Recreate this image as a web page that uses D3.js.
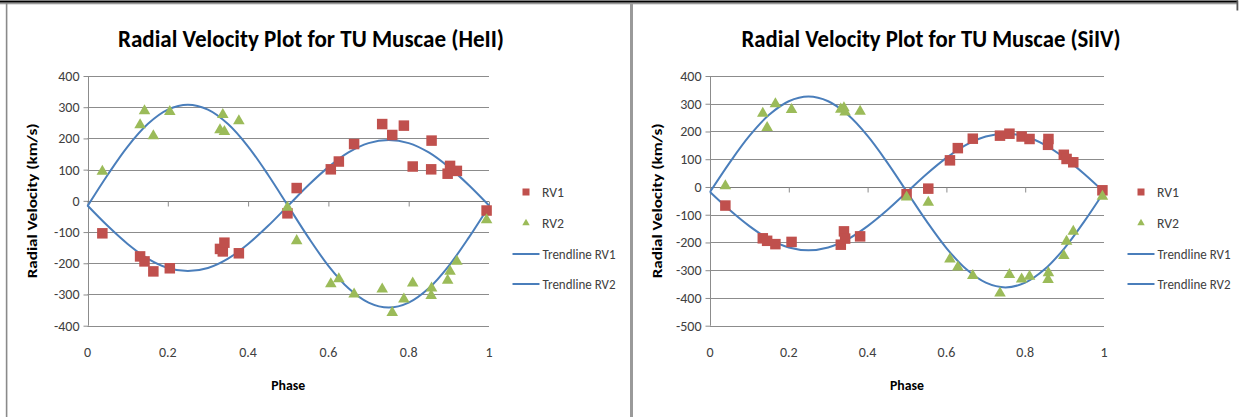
<!DOCTYPE html>
<html>
<head>
<meta charset="utf-8">
<script src="https://cdn.jsdelivr.net/npm/d3@7"></script>
<style>
  html, body { margin: 0; padding: 0; background: #fff; }
  svg { display: block; }
</style>
</head>
<body>
<svg id="chart" width="1243" height="417"></svg>
<script>
// ---------- DATA ----------
// HeII panel
const phaseHeII = [0.037,0.131,0.142,0.164,0.205,0.330,0.337,0.341,0.377,0.498,0.521,0.606,0.626,0.664,0.734,0.759,0.788,0.810,0.857,0.856,0.903,0.897,0.920,0.994];
const rv1HeII  = [-104,-178,-194,-226,-216,-154,-162,-134,-168,-40,41,101,126,182,246,211,241,110,193,101,112,87,96,-31];
const rv2HeII  = [94,243,288,208,286,227,276,222,256,-21,-128,-266,-250,-299,-283,-358,-315,-264,-280,-304,-226,-255,-194,-61];

// SiIV panel
const phaseSiIV = [0.039,0.134,0.145,0.166,0.207,0.332,0.340,0.343,0.381,0.499,0.554,0.609,0.629,0.667,0.736,0.760,0.791,0.811,0.859,0.858,0.898,0.905,0.922,0.996];
const rv1SiIV  = [-67,-185,-194,-206,-198,-208,-160,-186,-178,-26,-6,96,140,174,185,192,182,173,173,152,116,101,89,-12];
const rv2SiIV  = [4,265,214,299,279,280,285,270,272,-37,-56,-260,-289,-320,-383,-316,-332,-322,-310,-334,-248,-196,-160,-34];

// Trendlines
const trendPhase = [0,0.05,0.10,0.15,0.20,0.25,0.30,0.35,0.40,0.45,0.50,0.55,0.60,0.65,0.70,0.75,0.80,0.85,0.90,0.95,1.0];
const trendRV1HeII = [-15,-80,-138,-185,-215,-225,-215,-185,-138,-80,-15,50,108,155,185,195,185,155,108,50,-15];
const trendRV2HeII = [-17,83,174,246,292,308,292,246,174,83,-17,-117,-208,-280,-326,-342,-326,-280,-208,-117,-17];
const trendRV1SiIV = [-18,-83,-141,-188,-218,-228,-218,-188,-141,-83,-18,47,105,152,182,192,182,152,105,47,-18];
const trendRV2SiIV = [-18,88,184,260,309,326,309,260,184,88,-18,-124,-220,-296,-345,-362,-345,-296,-220,-124,-18];

// Axis ticks
const xTicks = [0,0.2,0.4,0.6,0.8,1];
const xTickLabels = ["0","0.2","0.4","0.6","0.8","1"];
const yTicksHeII = [-400,-300,-200,-100,0,100,200,300,400];
const yTicksSiIV = [-500,-400,-300,-200,-100,0,100,200,300,400];

const titleHeII = "Radial Velocity Plot for TU Muscae (HeII)";
const titleSiIV = "Radial Velocity Plot for TU Muscae (SiIV)";
const legendLabels = ["RV1","RV2","Trendline RV1","Trendline RV2"];
const xTitle = "Phase";
const yTitle = "Radial Velocity (km/s)";

// ---------- STYLE ----------
const FONT = "Carlito, Lato, 'Open Sans', sans-serif";
const RED = "#C0504D", GREEN = "#9BBB59", BLUE = "#4A7EBB";
const GRID = "#8c8c8c", TXT = "#404040";

const svg = d3.select("#chart");

// frame
svg.append("rect").attr("x",0).attr("y",0.5).attr("width",1238).attr("height",2.2).attr("fill","#000");
svg.append("rect").attr("x",0).attr("y",2.7).attr("width",1238).attr("height",1.6).attr("fill","#9a9a9a");
svg.append("rect").attr("x",5.8).attr("y",3).attr("width",1.6).attr("height",414).attr("fill","#8a8a8a");
svg.append("rect").attr("x",630).attr("y",3).attr("width",3).attr("height",414).attr("fill","#9a9a9a");
svg.append("rect").attr("x",1236.5).attr("y",0.5).attr("width",1.8).attr("height",10).attr("fill","#555");

function drawPanel(cfg) {
  const g = svg.append("g");
  const x = d3.scaleLinear().domain([0,1]).range([cfg.x0, cfg.x1]);
  const y = d3.scaleLinear().domain(d3.extent(cfg.yTicks)).range([cfg.yBottom, cfg.yTop]);

  // gridlines
  g.append("g").selectAll("line").data(cfg.yTicks).join("line")
    .attr("x1", cfg.x0).attr("x2", cfg.x1)
    .attr("y1", d => Math.round(y(d)) + 0.5).attr("y2", d => Math.round(y(d)) + 0.5)
    .attr("stroke", GRID).attr("stroke-width", 1);

  // y axis
  const yAxis = d3.axisLeft(y).tickValues(cfg.yTicks).tickSize(5).tickPadding(4).tickFormat(d => String(d));
  const ya = g.append("g").attr("transform", `translate(${Math.round(cfg.x0)+0.5},0)`).call(yAxis);
  ya.select(".domain").attr("stroke", GRID).attr("d", `M0,${y(cfg.yTicks[cfg.yTicks.length-1])}V${y(cfg.yTicks[0])}`);
  ya.selectAll(".tick line").attr("stroke", GRID);
  ya.selectAll(".tick text").attr("fill", TXT).style("font-family", FONT).style("font-size", "14px");

  // x axis at zero (ticks only, labels at bottom)
  const xAxis = d3.axisBottom(x).tickValues(xTicks).tickSize(5).tickFormat("");
  const xa = g.append("g").attr("transform", `translate(0,${Math.round(y(0))+0.5})`).call(xAxis);
  xa.select(".domain").attr("stroke", "#7a7a7a").attr("d", `M${cfg.x0},0H${cfg.x1}`);
  xa.selectAll(".tick line").attr("stroke", GRID);

  g.append("g").selectAll("text").data(xTicks).join("text")
    .attr("x", d => x(d)).attr("y", cfg.xLabelY)
    .attr("text-anchor","middle").attr("fill", TXT)
    .style("font-family", FONT).style("font-size","14px")
    .text((d,i) => xTickLabels[i]);

  // trendlines
  const line = d3.line().x(d => x(d[0])).y(d => y(d[1])).curve(d3.curveCatmullRom);
  [cfg.trend1, cfg.trend2].forEach(tr => {
    g.append("path").datum(trendPhase.map((p,i) => [p, tr[i]]))
      .attr("d", line).attr("fill","none").attr("stroke", BLUE).attr("stroke-width", 2);
  });

  // RV1 squares
  const sq = 10.5;
  g.append("g").selectAll("rect").data(cfg.phase.map((p,i)=>[p,cfg.rv1[i]])).join("rect")
    .attr("x", d => x(d[0]) - sq/2).attr("y", d => y(d[1]) - sq/2)
    .attr("width", sq).attr("height", sq).attr("fill", RED);

  // RV2 triangles
  const tri = d3.symbol().type(d3.symbolTriangle).size(58);
  g.append("g").selectAll("path").data(cfg.phase.map((p,i)=>[p,cfg.rv2[i]])).join("path")
    .attr("transform", d => `translate(${x(d[0])},${y(d[1])})`)
    .attr("d", tri).attr("fill", GREEN);

  // titles
  g.append("text").attr("x", cfg.titleX).attr("y", 47).attr("text-anchor","middle")
    .attr("textLength", cfg.titleW).attr("lengthAdjust","spacingAndGlyphs")
    .style("font-family", FONT).style("font-size","24px").style("font-weight","bold").attr("fill","#000")
    .text(cfg.title);

  g.append("text").attr("x", (cfg.x0+cfg.x1)/2).attr("y", 390).attr("text-anchor","middle")
    .attr("textLength", 34).attr("lengthAdjust","spacingAndGlyphs")
    .style("font-family", FONT).style("font-size","14px").style("font-weight","bold").attr("fill","#000")
    .text(xTitle);

  g.append("text").attr("transform", `translate(${cfg.yTitleX},${(cfg.yTop+cfg.yBottom)/2}) rotate(-90)`)
    .attr("text-anchor","middle").attr("textLength", 155).attr("lengthAdjust","spacingAndGlyphs")
    .style("font-family", FONT).style("font-size","14.5px").style("font-weight","bold").attr("fill","#000")
    .text(yTitle);

  // legend
  const lg = g.append("g").attr("transform", `translate(${cfg.legX},0)`);
  const rowY = [192, 223, 254, 284];
  lg.append("rect").attr("x", -3.5).attr("y", rowY[0]-3.5).attr("width",7).attr("height",7).attr("fill", RED);
  lg.append("path").attr("transform", `translate(0,${rowY[1]})`).attr("d", d3.symbol().type(d3.symbolTriangle).size(24)).attr("fill", GREEN);
  [2,3].forEach(i => lg.append("line").attr("x1",-13.5).attr("x2",13.5).attr("y1",rowY[i]).attr("y2",rowY[i]).attr("stroke",BLUE).attr("stroke-width",2));
  const widths = [22, 22, 73, 73];
  legendLabels.forEach((t,i) => {
    lg.append("text").attr("x", i < 2 ? 16 : 16.5).attr("y", rowY[i] + 5)
      .attr("textLength", widths[i]).attr("lengthAdjust","spacingAndGlyphs")
      .attr("fill", TXT).style("font-family", FONT).style("font-size","14.5px").text(t);
  });
}

drawPanel({
  x0: 87.5, x1: 489, yTop: 76, yBottom: 325.7, yTicks: yTicksHeII,
  phase: phaseHeII, rv1: rv1HeII, rv2: rv2HeII, trend1: trendRV1HeII, trend2: trendRV2HeII,
  title: titleHeII, titleX: 311, titleW: 386, xLabelY: 357, yTitleX: 37, legX: 526
});
drawPanel({
  x0: 710, x1: 1104, yTop: 76, yBottom: 325.7, yTicks: yTicksSiIV,
  phase: phaseSiIV, rv1: rv1SiIV, rv2: rv2SiIV, trend1: trendRV1SiIV, trend2: trendRV2SiIV,
  title: titleSiIV, titleX: 931, titleW: 379, xLabelY: 357, yTitleX: 662, legX: 1141
});
</script>
</body>
</html>
